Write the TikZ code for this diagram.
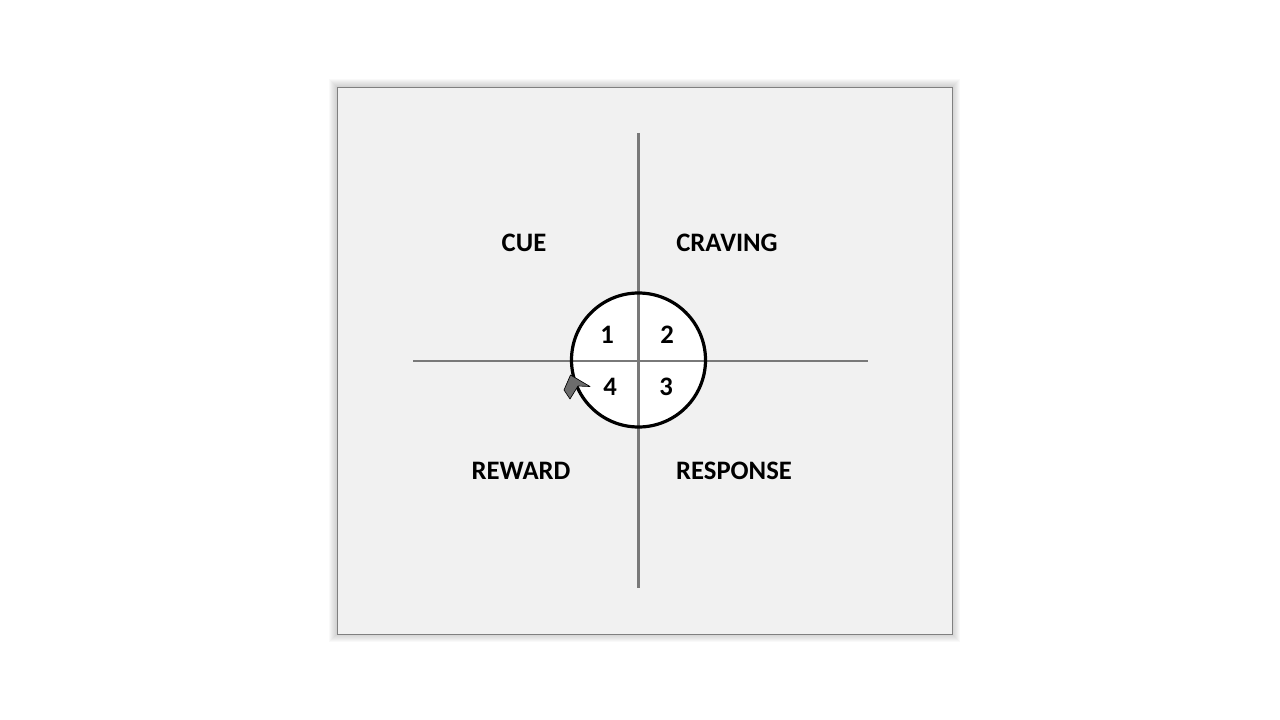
\documentclass[tikz,border=0pt]{standalone}
\usepackage{fontspec}
\setmainfont{Carlito}
\tikzset{
  axis/.style={draw=gray!95!black, line width=2pt},
  label/.style={font=\bfseries\fontsize{20}{22}\selectfont, text=black},
  num/.style={font=\bfseries\fontsize{20}{22}\selectfont, text=black}
}
\begin{document}
\begin{tikzpicture}[x=0.75pt,y=-0.75pt]
        \useasboundingbox (0,0) rectangle (1280,720);
        \begin{scope}
        % soft shadow round the frame
        \foreach \d in {8,7,...,1}{
          \fill[black, opacity=.025] (337-\d, 87-\d) rectangle (952+\d, 634+\d);
        }
        \draw[gray, fill={rgb,255:red,241;green,241;blue,241}, line width=0.6pt] (337, 87) rectangle (952, 634);
        \coordinate (c) at (638.5, 360);
        \fill[white] (c) circle [radius=67];
        \draw[axis] (638.5, 133) -- (638.5, 588);
        \draw[axis] (413, 361) -- (868, 361);
        \draw[black, line width=2.4pt] (c) circle [radius=67];
        \filldraw[fill=gray!85!black, draw=black, line width=0.5pt, line join=round]
          (570.5, 375)--(590, 386.5)--(578, 386)--(570, 399)--(564, 390)--cycle;
        \node[label] (cue) at (524, 243){CUE};
        \node[label] (craving) at (727, 243){CRAVING};
        \node[label] (reward) at (521, 471){REWARD};
        \node[label] (response) at (734, 471){RESPONSE};
        \node[num] (n1) at (607, 335){1};
        \node[num] (n2) at (667, 335){2};
        \node[num] (n3) at (666, 387){3};
        \node[num] (n4) at (610, 387){4};
        \end{scope}
\end{tikzpicture}
\end{document}
